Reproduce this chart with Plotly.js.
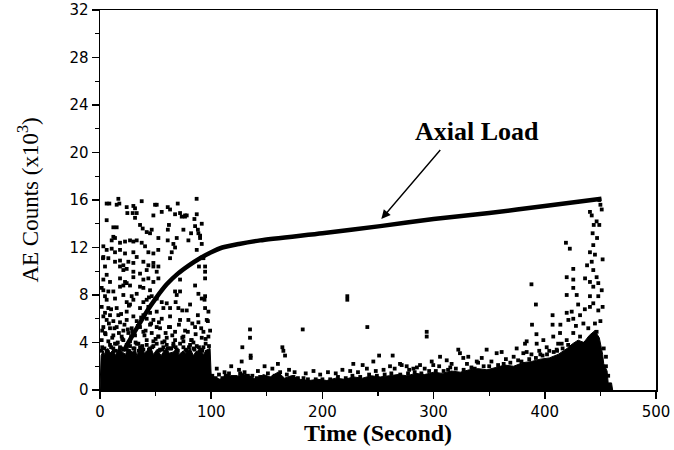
<!DOCTYPE html>
<html>
<head>
<meta charset="utf-8">
<script src="https://cdn.plot.ly/plotly-3.0.1.min.js"></script>
<style>html,body{margin:0;padding:0;background:#fff;}#chart{width:674px;height:450px;}</style>
</head>
<body>
<div id="chart"></div>
<script>
// Axial load curve (time s, AE counts x10^3 scale)
const loadT = [22, 28, 35, 42, 50, 60, 70, 80, 90, 100, 110, 125, 144, 200, 252, 300, 350, 400, 451];
const loadY = [3.4, 4.4, 5.5, 6.6, 7.7, 8.9, 9.8, 10.5, 11.1, 11.6, 12.0, 12.3, 12.6, 13.2, 13.8, 14.4, 14.9, 15.5, 16.1];

// Upper edge of the solid, saturated band of AE hits
const denseT = [0, 1, 3, 4, 7, 9, 12, 14, 17, 20, 23, 25, 29, 32, 33, 37, 40, 42, 46, 48, 51, 55, 57, 60, 62, 66, 69, 71, 75, 77, 81, 84, 86, 90, 93, 96, 99, 100,
  102, 108, 115, 121, 128, 134, 140, 147, 153, 160, 166, 172, 180, 188, 196, 204, 212, 220, 228, 236, 244, 252, 260, 268, 276, 284, 292, 300, 308, 316, 324, 332, 340, 348, 356, 364, 372, 380, 388, 396, 404, 412, 420, 425, 430, 435, 440, 445, 449, 452, 453, 456, 457, 460, 461];
const denseY = [0, 2.9, 3.3, 3.0, 3.5, 3.1, 3.4, 2.9, 3.6, 3.2, 3.0, 3.5, 3.2, 3.4, 2.9, 3.6, 3.1, 3.3, 3.5, 3.0, 3.4, 2.9, 3.2, 3.6, 3.1, 3.2, 3.5, 3.0, 3.3, 3.1, 3.5, 2.9, 3.2, 3.4, 3.0, 3.4, 3.5, 1.2,
  1.1, 0.9, 1.3, 1.0, 1.4, 1.2, 0.9, 1.3, 1.1, 1.5, 1.0, 1.2, 0.9, 0.8, 0.9, 0.8, 1.0, 0.9, 1.1, 1.0, 1.2, 1.1, 1.2, 1.3, 1.2, 1.4, 1.3, 1.5, 1.4, 1.6, 1.5, 1.7, 1.8, 1.7, 1.9, 2.1, 2.0, 2.3, 2.4, 2.6, 2.7, 3.0, 3.5, 3.9, 4.2, 4.0, 4.6, 5.0, 4.4, 3.0, 2.2, 1.6, 0.6, 0.6, 0];

// Scattered AE hits during the first 100 s
const burstT = [6, 8.4, 16.5, 17.4, 15, 24, 30, 37.5, 49.5, 24.6, 29.4, 31.5, 48, 6, 12, 15, 36, 38.4, 42, 45, 46.5, 12, 13.5, 10.5, 18, 22.5, 27, 30, 33,
  37.5, 40.5, 43.5, 48, 52.4, 3, 6, 10.5, 13.5, 18, 22.5, 30, 33, 3, 7.5, 13.5, 18, 21, 25.5, 30, 39, 43.5, 48, 52.5,
  86.9, 69.9, 51, 55.5, 60.9, 63, 67.5, 72, 73.5, 76.5, 78, 87, 84.9, 91.5, 62, 61, 85.5, 75, 52.5, 60.9, 69, 66, 81.9, 88.5, 90, 79.5, 91.5, 64.5, 67.5, 63,
  88, 90, 87, 93, 89, 2.7, 6, 1.5, 4.5, 31.5, 33, 76.4,
  4.5, 18, 21, 24, 30, 36, 42, 48, 51, 3, 9, 18, 22.5, 30, 39, 43.5, 48, 52.5, 18, 21, 24, 27, 36, 39, 45, 3, 7.5, 12,
  21, 28.5, 33, 46.5, 51, 6, 13.5, 24, 30, 39, 42, 1.5, 7.5, 15, 27, 36, 43.5, 4.5, 9, 16.5, 24, 30, 39, 45, 51,
  6, 12, 18, 24, 33, 42, 48, 3, 9, 15, 21, 28.5, 36, 45, 51, 4.5, 12, 19.5, 25.5, 31.5, 39, 46.5, 52.5, 1.5, 7.5, 13.5, 21, 27, 34.5, 42, 48,
  72, 67.5, 69, 72, 88.5, 91.5, 94.5, 94.5, 94.5, 94.5, 85.5, 55.5, 60, 63, 70.5, 78, 94.5, 97.5, 55.5, 63, 72, 79.5, 88.5, 96,
  54, 63, 67.5, 76.5, 85.5, 93, 99, 52.5, 60, 67.5, 75, 82.5, 91.5, 97.5, 56, 66, 75, 84, 95,
  2, 6, 9, 12, 15, 18, 21, 24, 27, 30, 33, 36, 39, 42, 45, 48, 51, 54, 57, 60, 63, 66, 69, 72, 75, 78, 81, 84, 87, 90, 93, 96];
const burstY = [15.7, 15.7, 16.1, 15.7, 15.6, 15.4, 15.5, 15.9, 15.6, 14.9, 14.9, 14.5, 14.7, 14.3, 13.7, 13.7, 13.9, 13.6, 13.3, 13.2, 13.5, 12.9, 12.8, 12.6, 12.4, 12.5, 12.6, 12.5, 12.6,
  12.4, 12.1, 11.6, 11.5, 11.8, 12.1, 11.8, 11.9, 11.6, 11.8, 11.5, 11.6, 11.2, 11.2, 11.1, 10.8, 10.9, 10.5, 10.8, 10.7, 10.8, 10.5, 10.7, 10.4,
  16.1, 15.7, 15.6, 15.0, 15.4, 15.2, 14.8, 14.9, 14.6, 14.7, 14.7, 14.8, 14.4, 14.0, 13.9, 13.5, 13.8, 13.5, 12.8, 12.6, 12.8, 12.3, 13.2, 13.2, 13.0, 12.6, 12.3, 11.6, 12.0, 11.1,
  13.5, 12.8, 11.8, 11.1, 10.4, 11.1, 9.7, 8.6, 7.9, 15.3, 14.9, 14.6,
  10.4, 10.4, 10.1, 10.2, 9.96, 9.8, 10.1, 10.4, 9.96, 9.3, 9.1, 9.4, 9.1, 9.5, 9.3, 9.4, 9.1, 9.4, 8.7, 8.8, 9.0, 8.8, 8.7, 8.6, 8.4, 8.4, 8.3, 8.3,
  8.0, 7.9, 8.1, 7.9, 7.7, 7.6, 7.7, 7.4, 7.6, 7.4, 7.6, 7.0, 6.9, 6.9, 7.2, 6.9, 7.0, 6.5, 6.3, 6.3, 6.6, 6.2, 6.3, 6.5, 6.6,
  5.9, 5.8, 5.7, 5.9, 5.8, 6.0, 5.9, 5.3, 5.2, 5.3, 5.0, 5.2, 5.3, 5.5, 5.3, 4.8, 4.6, 4.5, 4.8, 4.6, 4.9, 4.8, 4.5, 4.2, 4.1, 3.9, 4.2, 4.1, 3.9, 4.2, 4.1,
  9.3, 8.3, 8.0, 8.3, 8.1, 7.7, 7.9, 10.4, 9.96, 9.4, 8.8, 7.4, 7.3, 6.9, 6.9, 6.7, 6.9, 6.6, 6.0, 6.2, 5.9, 5.9, 5.7, 5.9,
  5.2, 5.3, 4.9, 5.0, 5.3, 4.9, 5.0, 4.5, 4.4, 4.2, 4.5, 4.2, 4.4, 4.5, 4.0, 3.9, 4.1, 4.0, 3.9,
  3.6, 3.3, 3.8, 3.5, 3.9, 3.6, 3.4, 3.8, 3.7, 3.5, 3.9, 3.6, 3.4, 3.8, 3.5, 3.7, 3.9, 3.4, 3.6, 3.8, 3.5, 3.7, 3.4, 3.9, 3.6, 3.3, 3.8, 3.5, 3.7, 3.4, 3.6, 3.2];

// Extra mottled hits just above the dense mass in the first 100 s
const burstLowT = [1, 4, 7, 10, 11, 14, 16, 19, 20, 23, 26, 28, 31, 32, 35, 38, 40, 44, 47, 50, 53, 56, 58, 61, 64, 65, 68, 70, 74, 77, 80, 82, 85, 86, 89, 92, 95, 98,
  2, 5, 8, 13, 17, 22, 25, 29, 34, 41, 46, 53, 59, 62, 71, 79, 83, 91, 97,
  3, 10, 19, 26, 37, 44, 57, 68, 74, 81, 88, 94];
const burstLowY = [3.3, 3.5, 3.2, 3.6, 4.4, 3.3, 4.0, 3.5, 4.3, 3.4, 3.3, 4.5, 3.5, 4.0, 3.3, 3.7, 4.6, 3.4, 3.6, 4.3, 3.3, 3.4, 4.1, 3.5, 3.5, 4.6, 3.6, 3.3, 4.4, 3.4, 3.6, 4.2, 3.4, 4.7, 3.6, 3.3, 4.3, 3.7,
  5.0, 4.7, 5.6, 5.2, 4.8, 5.5, 5.1, 4.9, 5.4, 5.0, 5.6, 5.7, 4.8, 5.3, 5.5, 4.9, 5.6, 5.2, 5.8,
  6.2, 6.8, 6.4, 7.1, 6.1, 7.8, 6.9, 7.4, 6.7, 7.2, 6.3, 7.6];

// Sparse hits during the quiet phase (100-400 s)
const quietT = [222.4, 222.4, 240.4, 182.3, 293.8, 293.8, 134.9, 134.9, 128, 135.5, 135.5, 164, 164.9, 166.4, 251, 263.2, 127.4, 245.8, 227.8, 236.2, 271.3,
  322.2, 323.7, 347.7, 305.8, 298.3, 299.7, 356.7, 361.2, 374.7, 383.7, 380.7, 331.2, 338.8, 343.3, 269.8, 275.8, 260.8, 281.8, 287.8, 311.8, 316.2, 326.7, 383.7, 382.2,
  105, 112, 118, 125, 142, 148, 155, 160, 170, 175, 185, 192, 198, 205, 212, 218, 225, 232, 240, 248, 255, 265, 278, 285, 292, 305, 315, 330, 340, 352, 365, 372, 388, 395];
const quietY = [7.9, 7.6, 5.3, 5.1, 4.9, 4.5, 5.1, 4.4, 3.6, 2.9, 2.7, 3.6, 3.3, 2.9, 2.9, 2.9, 2.4, 2.4, 2.2, 2.1, 2.1,
  3.4, 3.1, 3.4, 2.8, 2.4, 2.1, 3.1, 3.2, 3.5, 3.2, 3.1, 2.8, 2.4, 2.7, 2.2, 2.0, 2.0, 1.8, 2.1, 2.5, 2.2, 2.7, 4.1, 3.9,
  1.8, 1.5, 2.0, 1.7, 1.6, 2.0, 1.8, 2.2, 1.7, 1.5, 1.4, 1.6, 1.3, 1.5, 1.4, 1.7, 1.6, 1.5, 1.8, 1.6, 1.7, 1.8, 1.7, 1.9, 1.8, 2.0, 1.9, 2.2, 2.3, 2.4, 2.6, 2.8, 3.0, 3.3];

// Ragged speckle along the top of the quiet-phase band
const edgeT = [101, 104, 107, 110, 113, 116, 119, 122, 126, 130, 133, 137, 141, 144, 151, 157, 162, 168, 174, 178, 183, 187, 194, 200, 207, 214, 221, 227, 234, 242, 249, 256, 262, 270, 277, 283, 289, 296, 302, 309, 313, 320, 327, 334, 337, 345, 350, 358, 363, 369, 376, 379, 386, 392, 398, 402, 408, 411, 416, 421];
const edgeY = [1.2, 1.0, 1.3, 1.0, 1.2, 1.4, 1.1, 1.1, 1.4, 1.5, 1.2, 1.2, 1.0, 1.1, 1.4, 1.2, 1.5, 1.3, 1.1, 1.0, 1.0, 0.9, 0.9, 0.9, 0.9, 1.1, 1.0, 1.2, 1.1, 1.3, 1.2, 1.3, 1.4, 1.3, 1.4, 1.5, 1.4, 1.6, 1.6, 1.6, 1.7, 1.8, 1.7, 1.9, 1.8, 2.0, 2.0, 2.1, 2.2, 2.3, 2.5, 2.4, 2.6, 2.7, 2.9, 3.0, 3.2, 3.3, 3.5, 3.8];

// Final burst before failure (385-460 s)
const finalT = [419, 422.5, 443, 444, 388, 392, 388.5, 392.5, 407, 407,
  440.6, 442.2, 451.2, 446.6, 449, 443.6, 440.6, 445.1, 442.2, 425.6, 443.6, 446.6, 419.7, 425.6, 436.2, 440.6, 448.1, 425.6, 443.6, 451.2, 419.7, 428.7, 440.6, 448.1,
  419.7, 424.2, 421.2, 425.6, 431.7, 434.7, 440.6, 443.6, 448.1, 439.1, 445.1, 446.6,
  392.7, 398.7, 401.7, 407.6, 413.7, 415.2, 410.7, 419.7, 425.6, 431.7, 434.7,
  449, 450, 447, 452, 438, 430, 436, 428, 414, 450, 452, 453, 455, 455, 457, 412, 404, 396];
const finalY = [12.4, 11.9, 13.2, 13.9, 8.9, 7.2, 5.5, 4.7, 6.3, 5.5,
  15.0, 14.7, 15.2, 14.2, 13.9, 12.2, 11.6, 11.4, 10.8, 10.2, 10.1, 9.5, 9.5, 9.3, 9.4, 9.1, 9.0, 8.6, 8.7, 8.4, 8.0, 8.0, 7.9, 7.9,
  6.5, 6.6, 5.9, 6.0, 6.3, 5.6, 7.0, 7.3, 6.7, 5.2, 5.6, 4.9,
  3.9, 4.2, 3.6, 4.5, 4.8, 3.9, 3.4, 4.2, 4.8, 4.5, 3.9,
  16.0, 15.6, 12.8, 11.0, 10.5, 7.2, 6.8, 5.4, 5.5, 5.8, 7.0, 3.5, 2.8, 2.0, 1.2, 3.9, 3.3, 3.0];

const xTickVals = [0, 100, 200, 300, 400, 500];
const yTickVals = [0, 4, 8, 12, 16, 20, 24, 28, 32];

const dot = {color: '#000', size: 3.8, symbol: 'square'};
const traces = [
  {x: denseT, y: denseY, type: 'scatter', mode: 'lines', fill: 'tozeroy', fillcolor: '#000', line: {width: 1, color: '#000'}, hoverinfo: 'skip'},
  {x: burstT, y: burstY, type: 'scatter', mode: 'markers', marker: dot},
  {x: burstLowT, y: burstLowY, type: 'scatter', mode: 'markers', marker: dot},
  {x: quietT, y: quietY, type: 'scatter', mode: 'markers', marker: dot},
  {x: edgeT, y: edgeY, type: 'scatter', mode: 'markers', marker: dot},
  {x: finalT, y: finalY, type: 'scatter', mode: 'markers', marker: dot},
  {x: loadT, y: loadY, type: 'scatter', mode: 'lines', line: {color: '#000', width: 4.5, shape: 'spline', smoothing: 0.6}}
];

const tickFont = {family: 'DejaVu Sans', size: 15, color: '#000'};
const axisCommon = {
  showgrid: false, zeroline: false, showline: true, linecolor: '#000', linewidth: 1.5, mirror: true,
  ticks: 'outside', tickcolor: '#000', tickwidth: 1.5, ticklen: 7, tickfont: tickFont
};

const layout = {
  width: 674, height: 450,
  margin: {l: 100, r: 18, t: 10, b: 60},
  paper_bgcolor: '#fff', plot_bgcolor: '#fff',
  showlegend: false,
  xaxis: Object.assign({}, axisCommon, {
    range: [0, 500], tickvals: xTickVals, ticktext: xTickVals.map(String),
    minor: {tickvals: [50, 150, 250, 350, 450], ticks: 'outside', ticklen: 4, tickcolor: '#000', tickwidth: 1.2},
    title: {text: '<b>Time (Second)</b>', font: {family: 'Liberation Serif', size: 24, color: '#000'}, standoff: 0}
  }),
  yaxis: Object.assign({}, axisCommon, {
    range: [0, 32], tickvals: yTickVals, ticktext: yTickVals.map(String),
    minor: {tickvals: [2, 6, 10, 14, 18, 22, 26, 30], ticks: 'outside', ticklen: 4, tickcolor: '#000', tickwidth: 1.2},
    title: {text: 'AE Counts (x10<sup>3</sup>)', font: {family: 'Liberation Serif', size: 23, color: '#000'}, standoff: 24}
  }),
  annotations: [
    {x: 253, y: 14.4, ax: 308.7, ay: 20.5, axref: 'x', ayref: 'y', xref: 'x', yref: 'y',
     showarrow: true, arrowhead: 2, arrowsize: 1.3, arrowwidth: 1.4, arrowcolor: '#000', text: ' '},
    {x: 338.7, y: 21.8, xref: 'x', yref: 'y', showarrow: false, text: '<b>Axial Load</b>',
     font: {family: 'Liberation Serif', size: 26, color: '#000'}}
  ]
};

Plotly.newPlot('chart', traces, layout, {displayModeBar: false, staticPlot: true});
</script>
</body>
</html>
